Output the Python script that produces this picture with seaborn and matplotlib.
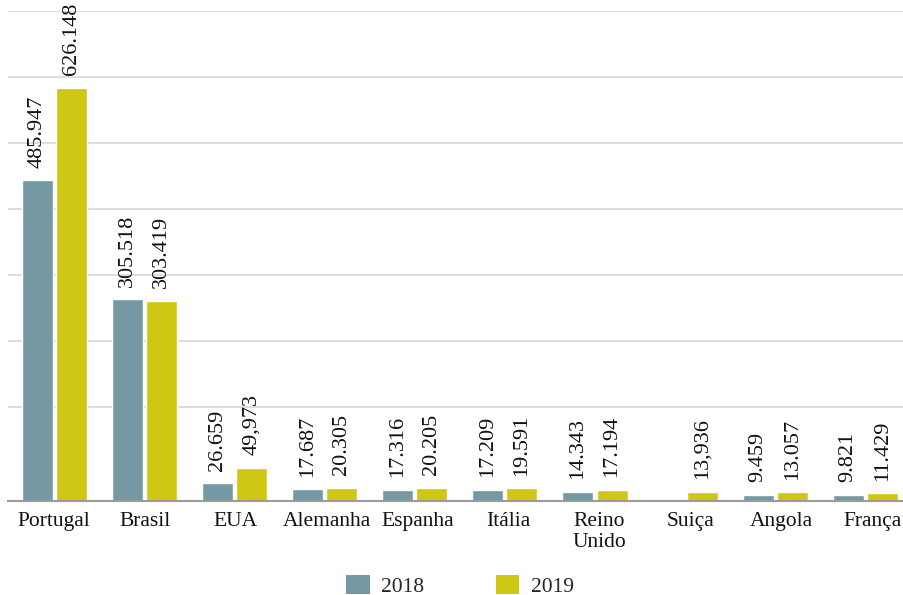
import numpy as np
import pandas as pd
import matplotlib
matplotlib.use("Agg")
import matplotlib.pyplot as plt
import seaborn as sns
from matplotlib.patches import Patch

countries = ["Portugal", "Brasil", "EUA", "Alemanha", "Espanha", "Itália",
             "Reino\nUnido", "Suiça", "Angola", "França"]
values_2018 = [485947, 305518, 26659, 17687, 17316, 17209, 14343, np.nan, 9459, 9821]
values_2019 = [626148, 303419, 49973, 20305, 20205, 19591, 17194, 13936, 13057, 11429]
labels_2018 = ["485.947", "305.518", "26.659", "17.687", "17.316", "17.209", "14.343", "", "9.459", "9.821"]
labels_2019 = ["626.148", "303.419", "49,973", "20.305", "20.205", "19.591", "17.194", "13,936", "13.057", "11.429"]
years = ["2018", "2019"]

df = pd.DataFrame({
    "country": countries * 2,
    "year": [years[0]] * len(countries) + [years[1]] * len(countries),
    "value": values_2018 + values_2019,
})

sns.set_theme(style="white")
plt.rcParams["font.family"] = ["Liberation Serif", "DejaVu Serif"]

W, H = 904, 595
fig = plt.figure(figsize=(W / 100, H / 100), dpi=100)
left, right, top, bottom = 8, 904, 11, 501
ax = fig.add_axes([left / W, 1 - bottom / H, (right - left) / W, (bottom - top) / H])

colors = {"2018": "#7599a3", "2019": "#d0c614"}
sns.barplot(data=df, x="country", y="value", hue="year", order=countries,
            hue_order=years, palette=colors, width=0.756, gap=0.09,
            saturation=1, ax=ax, legend=False, errorbar=None)

ymax = 742000
ax.set_ylim(0, ymax)
ax.set_xlim(-0.516, 9.43)

grid_vals = [ymax - 100000 * k for k in range(7)]
ax.set_yticks(grid_vals)
ax.set_yticklabels([])
ax.yaxis.grid(True, color="#d3d3d3", linewidth=1.1)
ax.set_axisbelow(True)
ax.tick_params(axis="y", length=0)
for s in ["top", "right", "left"]:
    ax.spines[s].set_visible(False)
ax.spines["bottom"].set_color("#9a9a9a")
ax.spines["bottom"].set_linewidth(1.5)
ax.spines["bottom"].set_zorder(5)

lab_map = {0: labels_2018, 1: labels_2019}
for j, cont in enumerate(ax.containers):
    labs = []
    for p in cont.patches:
        xc = p.get_x() + p.get_width() / 2
        idx = int(round(xc))
        h = p.get_height()
        labs.append(lab_map[j][idx] if np.isfinite(h) and h > 0 else "")
    ax.bar_label(cont, labels=labs, rotation=90, padding=9, fontsize=16,
                 color="#111111", clip_on=False)

tick_pos = np.arange(len(countries)) * 1.0094 - 0.005
ax.set_xticks(tick_pos)
ax.set_xticklabels(countries, fontsize=15.5, color="#111111", linespacing=1.12)
ax.tick_params(axis="x", length=0, pad=8)
ax.set_xlabel("")
ax.set_ylabel("")

handles = [Patch(facecolor=colors[y], edgecolor="none", label=y) for y in years]
fig.legend(handles=handles, loc="center", bbox_to_anchor=(460 / W, 1 - 586 / H),
           ncol=2, frameon=False, fontsize=15.5, handlelength=1.1, handleheight=0.95,
           handletextpad=0.55, columnspacing=3.3)

fig.savefig("out.png", dpi=100)
